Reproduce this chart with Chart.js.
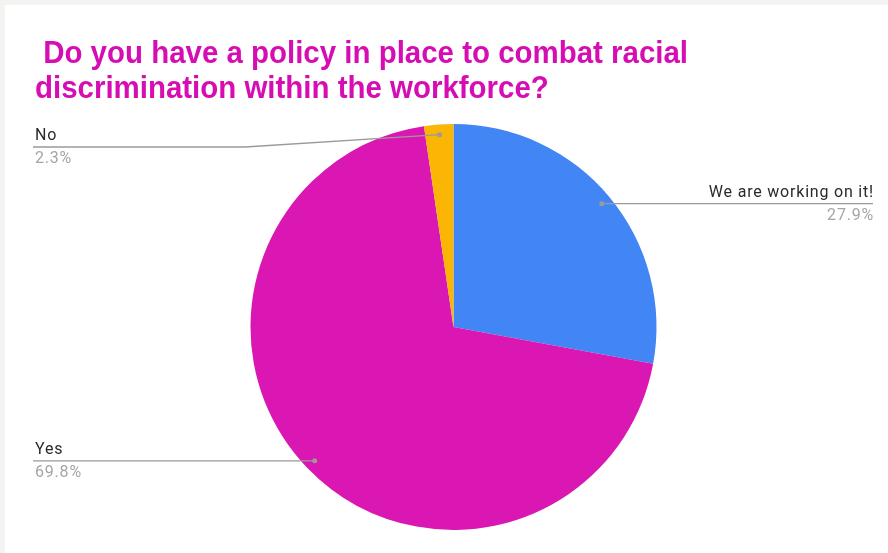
<!DOCTYPE html>
<html>
<head>
<meta charset="utf-8">
<script src="https://cdn.jsdelivr.net/npm/chart.js@4"></script>
<style>
  html, body { margin: 0; padding: 0; background: #f4f3f1; }
  #frame { position: absolute; left: 5px; top: 5px; width: 883px; height: 548px; background: #fff; }
  #titulo {
    position: absolute; left: 30px; top: 30px;
    font: bold 31px "Liberation Sans", Arial, sans-serif;
    line-height: 35px; color: #d60db3; white-space: pre;
    transform: scaleX(0.95); transform-origin: left top;
  }
  #grafico { position: absolute; left: 0; top: 0; }
</style>
</head>
<body>
<div id="frame">
  <canvas id="grafico" width="883" height="548"></canvas>
  <div id="titulo"> Do you have a policy in place to combat racial
discrimination within the workforce?</div>
</div>
<script>
var categorias = ['We are working on it!', 'Yes', 'No'];
var respostas = [12, 30, 1];
var cores = ['#4285f4', '#da16b3', '#fab505'];

// onde fica cada rótulo (lado, altura da linha, fim da linha)
var posRotulos = [
  { lado: 'dir', y: null, fimX: 868 },
  { lado: 'esq', y: null, fimX: 28 },
  { lado: 'esq', y: 142, fimX: 28, cotoveloX: 240 }
];

var rotulosPlugin = {
  id: 'rotulos',
  afterDatasetsDraw: function (chart) {
    var ctx = chart.ctx;
    var meta = chart.getDatasetMeta(0);
    var total = respostas.reduce(function (a, b) { return a + b; }, 0);
    ctx.save();
    meta.data.forEach(function (arc, i) {
      var p = arc.getProps(['x', 'y', 'startAngle', 'endAngle', 'outerRadius'], true);
      var meio = (p.startAngle + p.endAngle) / 2;
      var px = p.x + Math.cos(meio) * p.outerRadius * 0.95;
      var py = p.y + Math.sin(meio) * p.outerRadius * 0.95;
      var cfg = posRotulos[i];
      var ly = cfg.y === null ? py : cfg.y;

      ctx.strokeStyle = '#9a9a9a';
      ctx.lineWidth = 1.3;
      ctx.beginPath();
      ctx.moveTo(px, py);
      if (cfg.cotoveloX) ctx.lineTo(cfg.cotoveloX, ly);
      ctx.lineTo(cfg.fimX, ly);
      ctx.stroke();

      ctx.fillStyle = '#9a9a9a';
      ctx.beginPath();
      ctx.arc(px, py, 2.5, 0, Math.PI * 2);
      ctx.fill();

      var pct = (respostas[i] / total * 100).toFixed(1) + '%';
      ctx.font = '16px Roboto, "Noto Sans", sans-serif';
      ctx.letterSpacing = '0.8px';
      ctx.textAlign = cfg.lado === 'dir' ? 'right' : 'left';
      var tx = cfg.lado === 'dir' ? cfg.fimX + 1 : cfg.fimX + 2;
      ctx.fillStyle = '#2a2a2a';
      ctx.textBaseline = 'bottom';
      ctx.fillText(categorias[i], tx, ly - 3);
      ctx.fillStyle = '#a5a5a5';
      ctx.textBaseline = 'top';
      ctx.fillText(pct, tx, ly + 4);
    });
    ctx.restore();
  }
};

new Chart(document.getElementById('grafico'), {
  type: 'pie',
  data: {
    labels: categorias,
    datasets: [{
      data: respostas,
      backgroundColor: cores,
      borderWidth: 0
    }]
  },
  options: {
    responsive: false,
    animation: false,
    layout: { padding: { left: 243, right: 229, top: 119, bottom: 23 } },
    plugins: {
      legend: { display: false },
      tooltip: { enabled: false }
    }
  },
  plugins: [rotulosPlugin]
});
</script>
</body>
</html>
